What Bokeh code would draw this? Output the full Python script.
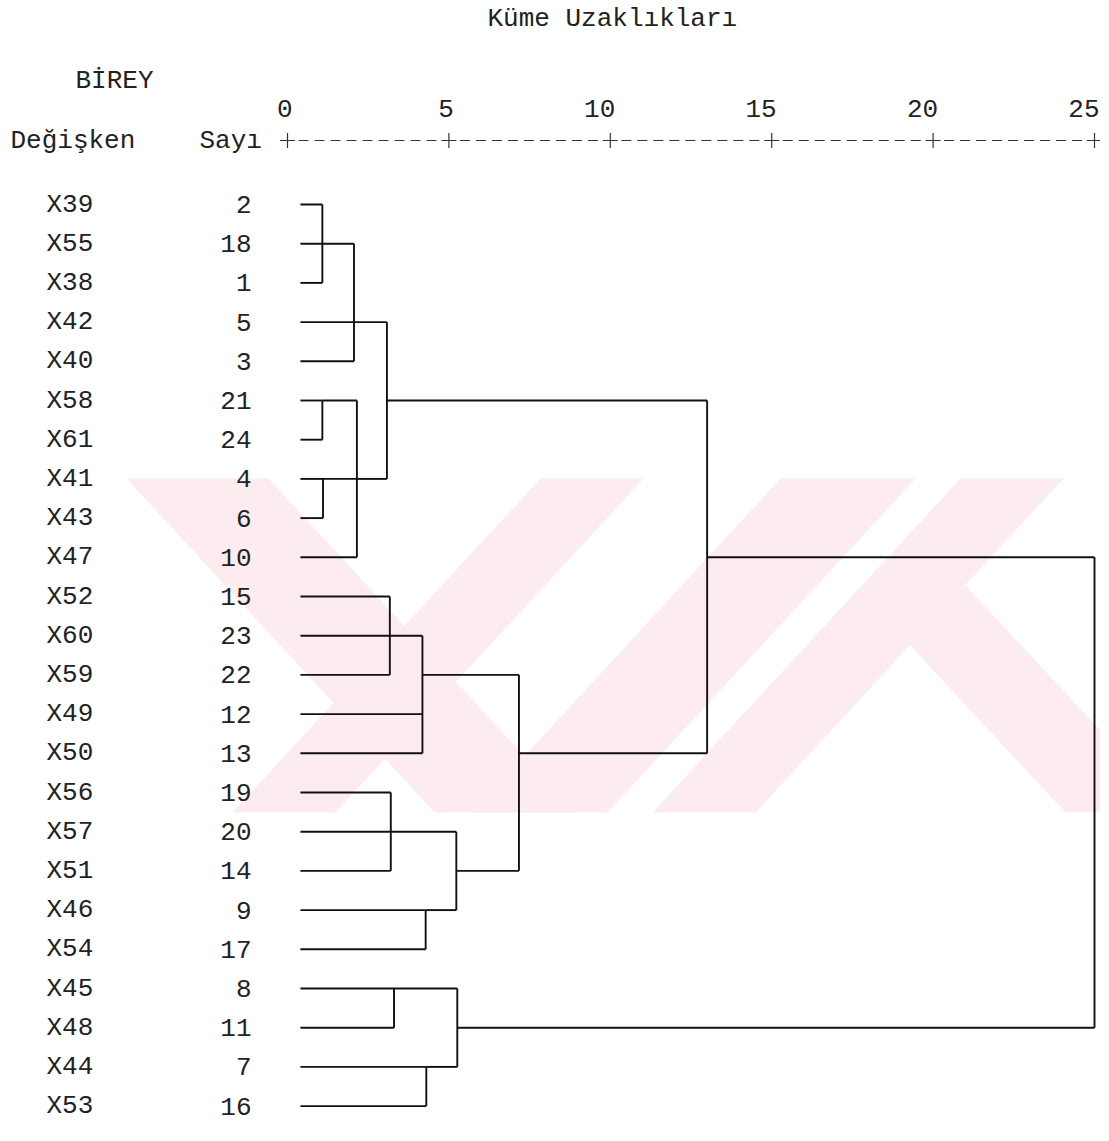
from bokeh.plotting import figure
from bokeh.models import Range1d, ColumnDataSource
from bokeh.core.properties import value
from bokeh.embed import file_html
from bokeh.resources import INLINE

# ---------------- data ----------------
labels = ["X39", "X55", "X38", "X42", "X40", "X58", "X61", "X41", "X43", "X47",
          "X52", "X60", "X59", "X49", "X50", "X56", "X57", "X51", "X46", "X54",
          "X45", "X48", "X44", "X53"]
counts = [2, 18, 1, 5, 3, 21, 24, 4, 6, 10, 15, 23, 22, 12, 13, 19, 20, 14, 9, 17,
          8, 11, 7, 16]
tick_values = [0, 5, 10, 15, 20, 25]
tick_labels = ["0", "5", "10", "15", "20", "25"]
title_text = "Küme Uzaklıkları"
header_group = "BİREY"
header_var = "Değişken"
header_num = "Sayı"

leaf_start = 0.4
# merged clusters: index 24 + i ; children refer to leaves (0..23) or clusters (>=24)
node_heights = [1.08, 2.06, 1.08, 1.10, 2.15, 3.08, 3.17, 4.18, 3.20, 4.28,
                5.23, 7.17, 13.0, 3.30, 4.30, 5.26, 25.0]
node_children = [[0, 1, 2], [24, 3, 4], [5, 6], [7, 8], [26, 27, 9], [25, 28],
                 [10, 11, 12], [30, 13, 14], [15, 16, 17], [18, 19], [32, 33],
                 [31, 34], [29, 35], [20, 21], [22, 23], [37, 38], [36, 39]]
node_rows = [1, 3, 5, 7, 7, 5, 11, 12, 16, 18, 17, 14, 9, 20, 22, 21, None]

# ---------------- layout ----------------
W, H = 1100, 1125
KX = 32.28          # px per distance unit
X0_PX = 287         # px of distance 0
KY = 39.2           # px per row
Y0_PX = 204         # px of row 0
xs = -X0_PX / KX
xe = xs + W / KX
yt = -Y0_PX / KY
yb = yt + H / KY

def fx(px):
    return xs + px / KX

def fy(py):
    return yt + py / KY

p = figure(width=W, height=H, x_range=Range1d(xs, xe), y_range=Range1d(yb, yt),
           output_backend="svg", toolbar_location=None,
           x_axis_location=None, y_axis_location=None, min_border=0)
p.grid.visible = False
p.outline_line_color = None
p.background_fill_color = "white"
p.border_fill_color = "white"

# ---------------- faint background watermark (decoration) ----------------
wm_polys = [
    [(126, 478), (268, 478), (576, 812), (434, 812)],
    [(540, 478), (643, 478), (335, 812), (232, 812)],
    [(780, 478), (915, 478), (607, 812), (472, 812)],
    [(960, 478), (1063, 478), (755, 812), (652, 812)],
    [(905, 640), (965, 585), (1100, 730), (1100, 812), (1065, 812)],
]
p.patches(xs=[[fx(a) for a, b in poly] for poly in wm_polys],
          ys=[[fy(b) for a, b in poly] for poly in wm_polys],
          fill_color="#fdecef", line_color=None)

# ---------------- dendrogram segments ----------------
N_LEAF = len(labels)

def h_of(i):
    return leaf_start if i < N_LEAF else node_heights[i - N_LEAF]

def row_of(i):
    return i if i < N_LEAF else node_rows[i - N_LEAF]

sx0, sx1, sy0, sy1 = [], [], [], []
for k, ch in enumerate(node_children):
    hk = node_heights[k]
    rws = [row_of(c) for c in ch]
    for c in ch:
        sx0.append(h_of(c)); sx1.append(hk)
        sy0.append(row_of(c)); sy1.append(row_of(c))
    sx0.append(hk); sx1.append(hk)
    sy0.append(min(rws)); sy1.append(max(rws))

p.segment(x0=sx0, y0=sy0, x1=sx1, y1=sy1, line_color="#111111", line_width=1.9)

FONT = value("Liberation Mono")
FS = "26px"
TXT = "#222222"

# ---------------- distance axis ("+---------+" style) ----------------
axis_row = fy(140)
p.segment(x0=tick_values[:-1], x1=tick_values[1:], y0=[axis_row] * 5, y1=[axis_row] * 5,
          line_color="#333333", line_width=1.2, line_dash="10 6", line_dash_offset=5)
p.scatter(x=tick_values, y=[axis_row] * len(tick_values), marker="cross", size=15,
          line_color="#333333", line_width=1.2)
p.text(x=tick_values, y=[fy(108)] * len(tick_values), text=tick_labels,
       text_font=FONT, text_font_size=FS, text_color=TXT,
       text_align="right", text_baseline="middle", x_offset=5)

# ---------------- headers ----------------
p.text(x=[fx(487)], y=[fy(18)], text=[title_text], text_font=FONT, text_font_size=FS,
       text_color=TXT, text_align="left", text_baseline="middle")
p.text(x=[fx(75)], y=[fy(80)], text=[header_group], text_font=FONT, text_font_size=FS,
       text_color=TXT, text_align="left", text_baseline="middle")
p.text(x=[fx(10)], y=[fy(140)], text=[header_var], text_font=FONT, text_font_size=FS,
       text_color=TXT, text_align="left", text_baseline="middle")
p.text(x=[fx(199)], y=[fy(140)], text=[header_num], text_font=FONT, text_font_size=FS,
       text_color=TXT, text_align="left", text_baseline="middle")

# ---------------- leaf labels ----------------
rows = list(range(N_LEAF))
src = ColumnDataSource(dict(row=rows, lab=labels, cnt=[str(c) for c in counts],
                            xl=[fx(46)] * N_LEAF, xc=[fx(251)] * N_LEAF))
p.text(x="xl", y="row", text="lab", source=src, text_font=FONT, text_font_size=FS,
       text_color=TXT, text_align="left", text_baseline="middle")
p.text(x="xc", y="row", text="cnt", source=src, text_font=FONT, text_font_size=FS,
       text_color=TXT, text_align="right", text_baseline="middle")

open("out.html", "w").write(file_html(p, INLINE))
